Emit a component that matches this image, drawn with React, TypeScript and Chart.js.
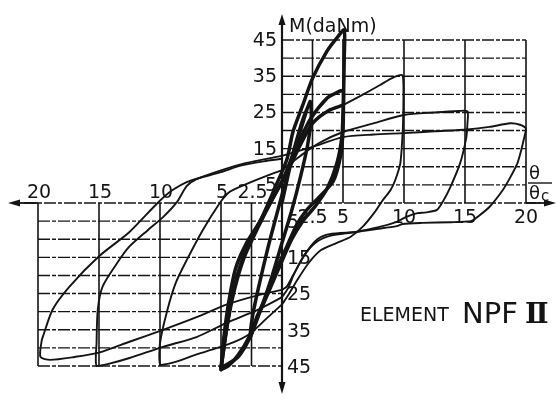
import React, { useEffect, useRef } from "react";
import { Chart, registerables } from "chart.js";

Chart.register(...registerables);

// ---- grid / tick data ----
const gridThetaPos = [2.5, 5, 10, 15, 20];
const gridThetaNeg = [-2.5, -5, -10, -15, -20];
const gridMPos = [5, 10, 15, 20, 25, 30, 35, 40, 45];
const gridMNeg = [-5, -10, -15, -20, -25, -30, -35, -40, -45];
const thetaTickValuesPos = [2.5, 5, 10, 15, 20];
const thetaTickLabelsPos = ["2.5", "5", "10", "15", "20"];
const thetaTickValuesNeg = [-2.5, -5, -10, -15, -20];
const thetaTickLabelsNeg = ["2.5", "5", "10", "15", "20"];
const mTickValuesPos = [45, 35, 25, 15, 5];
const mTickLabelsPos = ["45", "35", "25", "15", "5"];
const mTickValuesNeg = [-5, -15, -25, -35, -45];
const mTickLabelsNeg = ["5", "15", "25", "35", "45"];

// ---- thick cycles (amplitude 2.5 and 5) ----
const loop25Theta = [0, 0.8, 1.6, 2.3, 2.4, 2.1, 1.5, 0.8, 0, -0.8, -1.6, -2.3, -2.6, -2.4, -1.9, -1.2, -0.5, 0.3, 1, 1.7, 2.3];
const loop25M = [0, 12, 21, 28, 24, 16, 7, -2, -11, -20, -28, -34, -37, -31, -23, -13, -4, 6, 15, 23, 28];

const loop5aTheta = [-5, -4.8, -4.4, -3.8, -2.9, -1.8, -0.6, 0.4, 0.9, 1.7, 2.5, 3.7, 4.6, 5.1, 5.1, 5.05, 5, 4.8, 4.2, 3, 2, 1.2, 0.4, -0.4, -1.2, -2, -2.7, -3.6, -4.4, -5];
const loop5aM = [-46, -38, -28, -18, -11, -5, 4, 12, 19.7, 27, 34.4, 42, 46, 47.8, 40, 30, 20, 13, 6, 1.5, -2, -6, -12, -18, -25, -31, -37, -42, -45, -46];

const loop5bTheta = [-5, -4.6, -4.1, -3.4, -2.4, -1.3, 0, 1, 2.3, 3.7, 4.5, 5, 5, 4.9, 4.5, 3.7, 2.7, 1.7, 0.8, 0, -0.9, -1.8, -2.6, -3.6, -5];
const loop5bM = [-46, -36, -26, -17, -9, -2, 6, 14, 23, 29, 30.5, 31, 25, 18, 11, 4, -1, -5, -10, -16, -23, -30, -37, -42.5, -45.5];

const loop5cTheta = [-5, -4.5, -3.9, -3.1, -2, -0.8, 0.5, 1.5, 2.5, 3.8, 5];
const loop5cM = [-45.5, -34, -24, -15, -7, 1, 9, 16, 22, 25.5, 27];

// ---- thin envelope branches ----
const up10Theta = [5, 6.4, 8, 9.1, 9.84, 9.95, 9.95, 9.9, 9.7, 9.3, 8.9, 8.2, 7.6, 6.6, 5.6, 4.5, 3.2, 2.2, 1.3, 0.5, 0];
const up10M = [27, 29.5, 32.5, 34.6, 35.3, 33, 27, 20.2, 11, 6.5, 3.6, 0.5, -2.5, -6.6, -9.4, -11, -13, -16.5, -21, -25.5, -28];

const neg10Theta = [0, -1.3, -2.6, -4, -5.5, -7, -8.4, -9.5, -10, -10, -9.4, -8.7, -7.8, -6.5, -5.1, -4.5, -4, -2, 0];
const neg10M = [-28, -32, -36, -38.5, -40.2, -41.8, -43.5, -44.5, -44.5, -38.7, -29.6, -22, -15.7, -7.5, 0, 2.5, 3.6, 6.5, 9.1];

const up15Theta = [0, 1.5, 3, 5, 7.5, 10, 12.5, 14.5, 15.2, 15.2, 15.1, 14.6, 13.8, 13.2, 12.7, 11.8, 11.1, 10.2, 9.4, 8, 6, 4, 2.8, 1.8, 1, 0.5, 0];
const up15M = [9.1, 13, 16.5, 19.6, 22, 24.3, 25, 25.4, 25.3, 22, 18, 11, 4.4, 0.5, -1.9, -2.6, -2.8, -3.8, -5.2, -6.6, -8, -9, -10.8, -14.5, -19.5, -23.5, -26];

const neg15Theta = [0, -2, -4.5, -7, -9.75, -12.5, -14.3, -15.2, -15.2, -15.1, -14.7, -13.5, -12.5, -11, -9.75, -8.6, -7.8, -7, -5, -3, 0];
const neg15M = [-26, -29.5, -33, -37, -39.7, -42.8, -44.5, -45, -38.6, -29.4, -23, -16.5, -12, -7.5, -3.9, 0.3, 4.7, 6.6, 9, 11, 13];

const up20Theta = [0, 2.5, 5, 7.5, 10, 12.5, 15.2, 17, 18.7, 19.5, 20, 19.85, 19.6, 19.3, 18.7, 18.1, 17, 16, 15.5, 13.8, 11.5, 9.9, 9.4, 7.5, 6.1, 3.9, 2.9, 2, 0.9, 0.4, 0];
const up20M = [13, 15.5, 18.2, 18.9, 19.3, 19.8, 20.3, 21, 22, 21.6, 20.5, 18, 14.5, 11, 7, 3.6, -1.1, -3.9, -5, -5.3, -5.5, -5.8, -6.4, -7.3, -8, -8.6, -10, -13.6, -20, -23, -24];

const neg20Theta = [0, -2, -4.5, -7, -9.75, -12.5, -15, -17, -19, -19.8, -19.7, -19.6, -18.8, -17.4, -15, -12.5, -10.2, -9, -7.5, -5, -3.4, -1.5, 0];
const neg20M = [-24, -25.5, -28, -31.5, -35, -38.3, -41.3, -42.5, -43.3, -42.5, -38, -36.9, -29.4, -23, -14.7, -8, 0, 3.5, 6.2, 8.5, 10.3, 11.5, 12.2];

const INK = "#141414";

function series(th: number[], m: number[], width: number) {
  return {
    data: th.map((t, i) => ({ x: t, y: m[i] })),
    showLine: true,
    borderColor: INK,
    backgroundColor: INK,
    borderWidth: width,
    pointRadius: 0,
    tension: 0.25,
    clip: false as any,
  };
}

const framePlugin = {
  id: "frame",
  beforeDatasetsDraw(chart: any) {
    const { ctx, scales } = chart;
    const xs = scales.x;
    const ys = scales.y;
    const X = (v: number) => xs.getPixelForValue(v);
    const Y = (v: number) => ys.getPixelForValue(v);
    const seg = (x1: number, y1: number, x2: number, y2: number) => {
      ctx.beginPath();
      ctx.moveTo(x1, y1);
      ctx.lineTo(x2, y2);
      ctx.stroke();
    };
    ctx.save();
    ctx.strokeStyle = INK;
    ctx.fillStyle = INK;

    // horizontal grid (dash-dot like the scan)
    ctx.lineWidth = 1.4;
    ctx.setLineDash([12, 2, 4, 2]);
    for (const m of gridMPos) seg(X(0), Y(m), X(20), Y(m));
    for (const m of gridMNeg) seg(X(-20), Y(m), X(0), Y(m));
    // x axis
    ctx.lineWidth = 1.6;
    seg(X(-20) - 14, Y(0), X(20) + 14, Y(0));
    ctx.setLineDash([]);

    // vertical grid
    ctx.lineWidth = 1.6;
    for (const t of gridThetaPos) seg(X(t), Y(0), X(t), Y(45));
    for (const t of gridThetaNeg) seg(X(t), Y(0), X(t), Y(-45));

    // y axis
    const x0 = X(0);
    const yTop = Y(45) - 26;
    const yBot = Y(-45) + 28;
    ctx.lineWidth = 2.2;
    seg(x0, yTop + 6, x0, yBot - 6);
    const tri = (pts: number[][]) => {
      ctx.beginPath();
      ctx.moveTo(pts[0][0], pts[0][1]);
      ctx.lineTo(pts[1][0], pts[1][1]);
      ctx.lineTo(pts[2][0], pts[2][1]);
      ctx.closePath();
      ctx.fill();
    };
    tri([[x0, yTop], [x0 - 3.5, yTop + 11], [x0 + 3.5, yTop + 11]]);
    tri([[x0, yBot], [x0 - 3.5, yBot - 12], [x0 + 3.5, yBot - 12]]);
    const y0 = Y(0);
    const xl = X(-20) - 30;
    const xr = X(20) + 30;
    ctx.lineWidth = 1.8;
    seg(xl + 4, y0, X(-20), y0);
    seg(X(20), y0, xr - 4, y0);
    tri([[xl, y0], [xl + 12, y0 - 3.5], [xl + 12, y0 + 3.5]]);
    tri([[xr, y0], [xr - 12, y0 - 3.5], [xr - 12, y0 + 3.5]]);

    // tick labels
    ctx.font = "19px 'DejaVu Sans'";
    ctx.textBaseline = "alphabetic";
    ctx.textAlign = "center";
    thetaTickValuesNeg.forEach((v, i) => {
      ctx.fillText(thetaTickLabelsNeg[i], X(v) + 1, y0 - 5);
    });
    thetaTickValuesPos.forEach((v, i) => {
      ctx.fillText(thetaTickLabelsPos[i], X(v), y0 + 20);
    });
    ctx.textBaseline = "middle";
    ctx.textAlign = "right";
    mTickValuesPos.forEach((v, i) => {
      ctx.fillText(mTickLabelsPos[i], x0 - 5, Y(v) + 1);
    });
    ctx.textAlign = "left";
    mTickValuesNeg.forEach((v, i) => {
      ctx.fillText(mTickLabelsNeg[i], x0 + 5, Y(v) + 2);
    });

    // axis titles
    ctx.textBaseline = "alphabetic";
    ctx.textAlign = "left";
    ctx.font = "19px 'DejaVu Sans'";
    ctx.fillText("M(daNm)", x0 + 7, yTop + 18);

    const fx = X(20) + 2;
    ctx.font = "18px 'DejaVu Sans'";
    ctx.fillText("θ", fx + 1, y0 - 24);
    ctx.lineWidth = 1.4;
    seg(fx, y0 - 20, fx + 24, y0 - 20);
    ctx.fillText("θ", fx + 1, y0 - 4);
    ctx.font = "15px 'DejaVu Sans'";
    ctx.fillText("c", fx + 13, y0 - 2);

    // element title
    ctx.font = "19px 'DejaVu Sans'";
    ctx.fillText("ELEMENT", 360, 321);
    ctx.font = "29px 'DejaVu Sans'";
    ctx.fillText("NPF", 462, 323);
    ctx.font = "bold 28px 'DejaVu Serif'";
    ctx.fillText("Ⅱ", 525, 323);

    ctx.restore();
  },
};

export default function App() {
  const ref = useRef<HTMLCanvasElement | null>(null);
  useEffect(() => {
    const canvas = ref.current;
    if (!canvas) return;
    const thin = 1.9;
    const thick = 3.5;
    const chart = new Chart(canvas, {
      type: "scatter",
      data: {
        datasets: [
          series(up10Theta, up10M, thin),
          series(neg10Theta, neg10M, thin),
          series(up15Theta, up15M, thin),
          series(neg15Theta, neg15M, thin),
          series(up20Theta, up20M, thin),
          series(neg20Theta, neg20M, thin),
          series(loop25Theta, loop25M, thick),
          series(loop5aTheta, loop5aM, thick),
          series(loop5bTheta, loop5bM, thick),
          series(loop5cTheta, loop5cM, thick),
        ] as any,
      },
      options: {
        animation: false,
        responsive: false,
        maintainAspectRatio: false,
        devicePixelRatio: 1,
        layout: { padding: { left: 38, right: 34, top: 40, bottom: 36 } },
        scales: {
          x: { type: "linear", min: -20, max: 20, display: false },
          y: { type: "linear", min: -45, max: 45, display: false },
        },
        plugins: { legend: { display: false }, tooltip: { enabled: false } },
        elements: { line: { borderCapStyle: "round", borderJoinStyle: "round" } },
      } as any,
      plugins: [framePlugin],
    });
    return () => chart.destroy();
  }, []);
  return (
    <div style={{ position: "absolute", left: 0, top: 0, width: 560, height: 402, background: "#fff" }}>
      <canvas ref={ref} width={560} height={402} style={{ display: "block" }} />
    </div>
  );
}
